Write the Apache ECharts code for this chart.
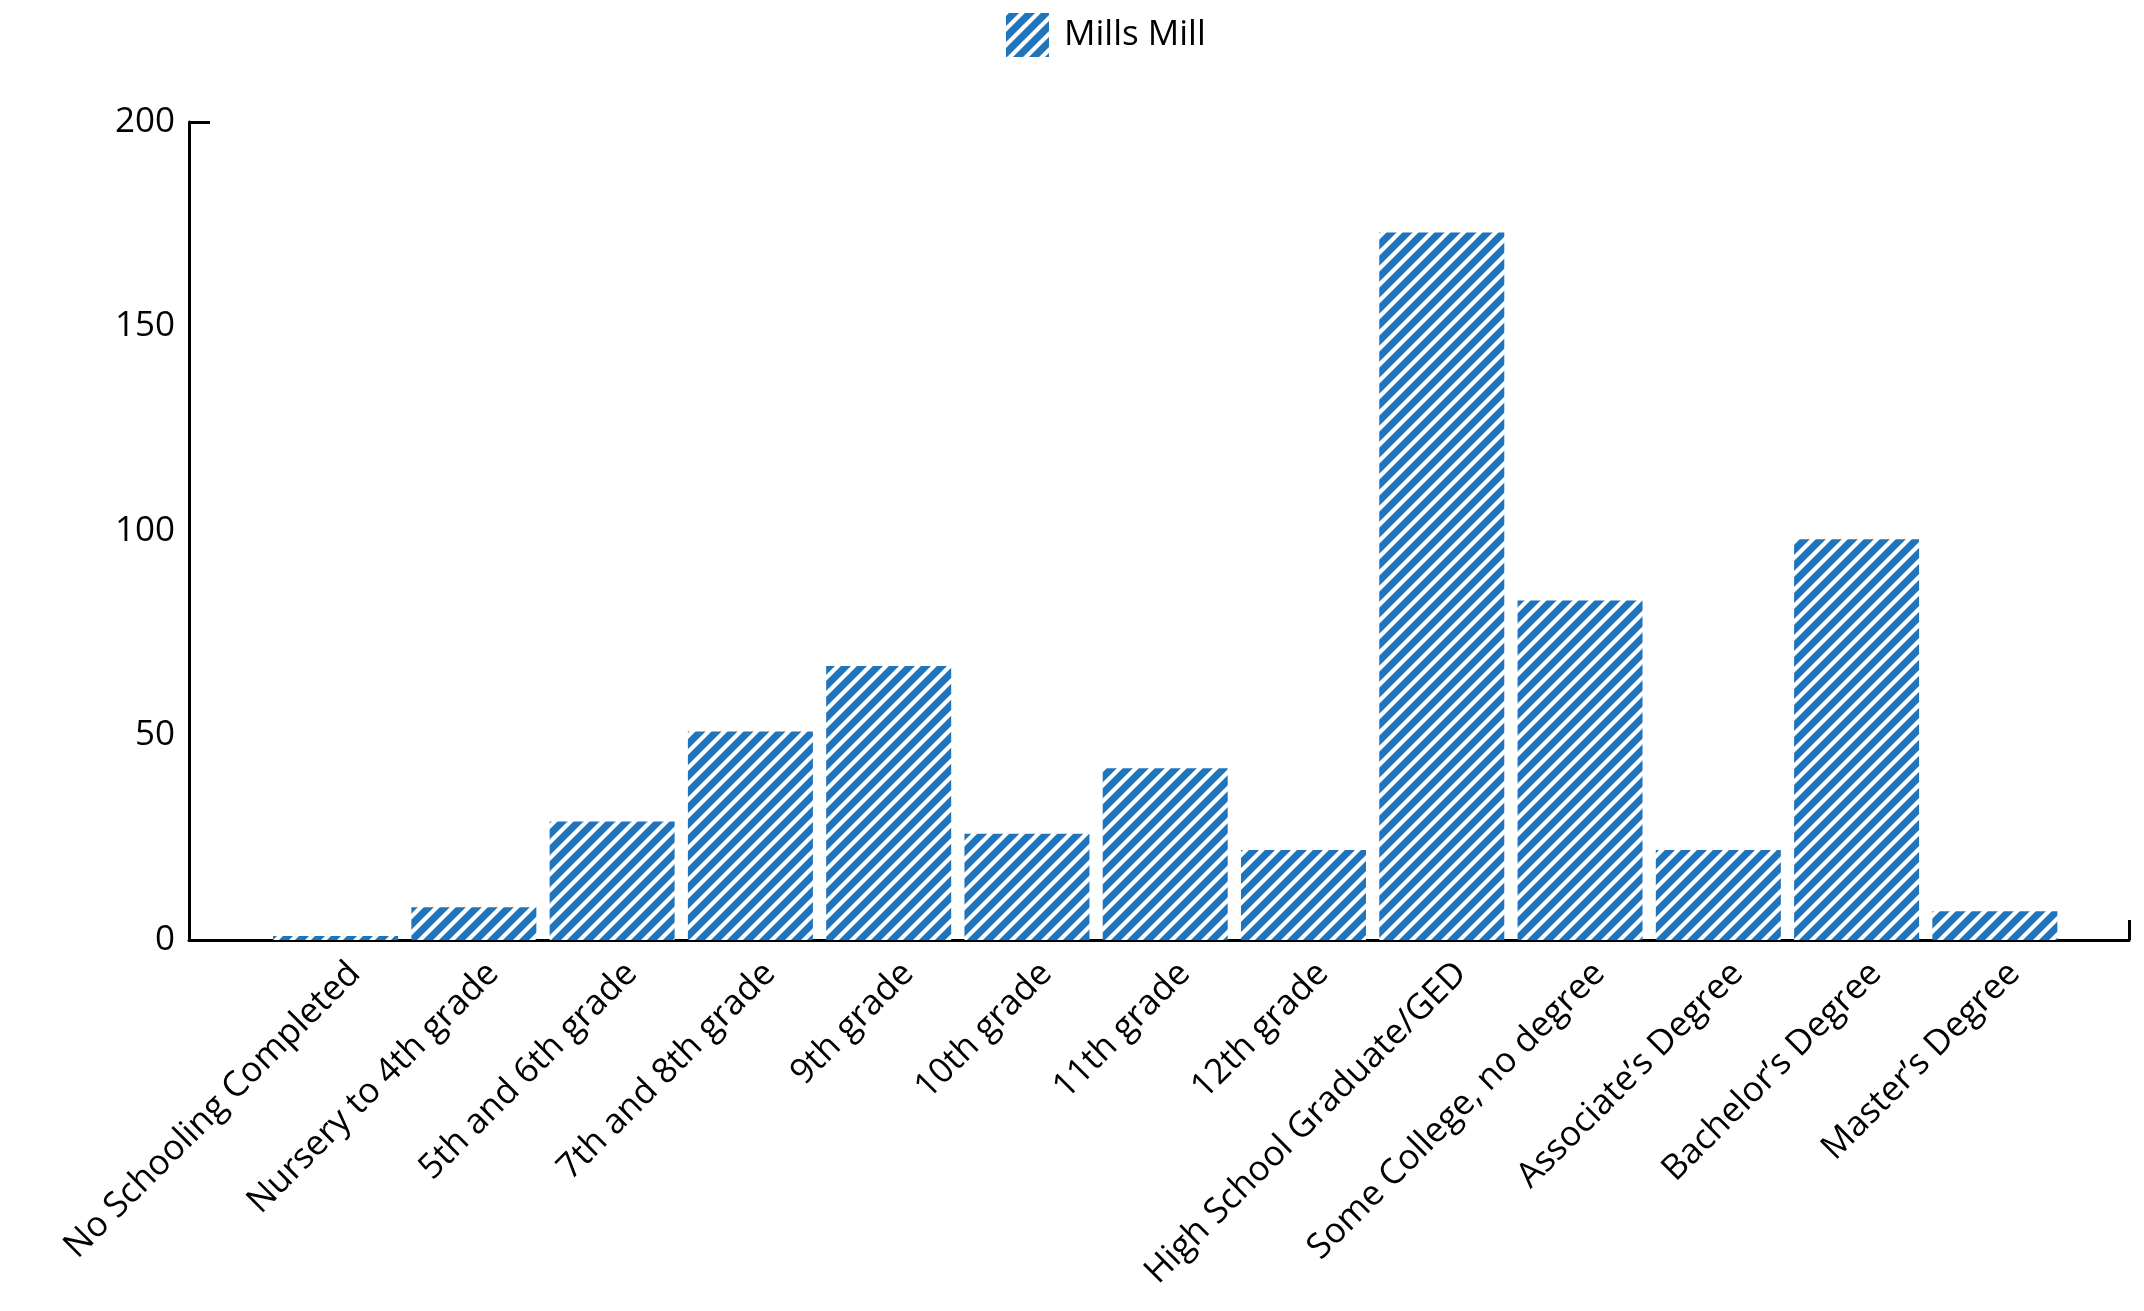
<!DOCTYPE html>
<html>
<head>
<meta charset="utf-8">
<script src="https://cdn.jsdelivr.net/npm/echarts@6/dist/echarts.min.js"></script>
<style>html,body{margin:0;padding:0;background:#fff;}#chart{width:2144px;height:1311px;}</style>
</head>
<body>
<div id="chart"></div>
<script>
const categories = ["No Schooling Completed","Nursery to 4th grade","5th and 6th grade","7th and 8th grade","9th grade","10th grade","11th grade","12th grade","High School Graduate/GED","Some College, no degree","Associate\u2019s Degree","Bachelor\u2019s Degree","Master\u2019s Degree"];
const values = [1, 8, 29, 51, 67, 26, 42, 22, 173, 83, 22, 98, 7];
const seriesName = "Mills Mill";
const yTicks = [0, 50, 100, 150, 200];

const BLUE = '#1f74bb';
function makePattern() {
  const p = 16;
  const c = document.createElement('canvas');
  c.width = p; c.height = p;
  const ctx = c.getContext('2d');
  ctx.fillStyle = BLUE;
  ctx.fillRect(0, 0, p, p);
  ctx.strokeStyle = '#ffffff';
  ctx.lineWidth = 4.2;
  ctx.lineCap = 'square';
  [0, p, 2 * p].forEach(k => {
    ctx.beginPath();
    ctx.moveTo(k + 2, -2);
    ctx.lineTo(k - p - 2, p + 2);
    ctx.stroke();
  });
  return c;
}
const pattern = { image: makePattern(), repeat: 'repeat' };

const xMin = -1.06, xMax = 12.97;
const labelShift = 0.14;
const labelPos = categories.map((_, i) => i + labelShift);
const data = values.map((v, i) => [i, v]);
const FONT = 'Open Sans';

const chart = echarts.init(document.getElementById('chart'), null, { renderer: 'canvas' });
chart.setOption({
  animation: false,
  backgroundColor: '#fff',
  textStyle: { fontFamily: FONT, color: '#000' },
  legend: {
    top: 8,
    left: 1001,
    itemWidth: 43,
    itemHeight: 44,
    itemGap: 12,
    textStyle: { fontSize: 35, fontFamily: FONT, color: '#000', padding: [0, 0, 0, 10] },
    data: [{ name: seriesName, icon: 'rect' }]
  },
  grid: { left: 189, right: 15, top: 122, bottom: 371, containLabel: false },
  xAxis: {
    type: 'value',
    min: xMin,
    max: xMax,
    splitLine: { show: false },
    axisLine: { show: true, onZero: false, lineStyle: { color: '#000', width: 3 } },
    axisTick: { show: true, inside: true, length: 20, customValues: [xMax], lineStyle: { color: '#000', width: 3 } },
    axisLabel: {
      show: true,
      customValues: labelPos,
      rotate: 45,
      margin: 28,
      fontSize: 35,
      fontFamily: FONT,
      color: '#000',
      formatter: v => categories[Math.round(v - labelShift)] || ''
    }
  },
  yAxis: {
    type: 'value',
    min: yTicks[0],
    max: yTicks[yTicks.length - 1],
    interval: 50,
    splitLine: { show: false },
    axisLine: { show: true, onZero: false, lineStyle: { color: '#000', width: 3 } },
    axisTick: { show: true, inside: true, length: 21, customValues: [yTicks[yTicks.length - 1]], lineStyle: { color: '#000', width: 3 } },
    axisLabel: { fontSize: 35, fontFamily: FONT, color: '#000', margin: 14 }
  },
  series: [{
    name: seriesName,
    type: 'bar',
    data: data,
    barWidth: 125,
    itemStyle: { color: pattern }
  }]
});
</script>
</body>
</html>
